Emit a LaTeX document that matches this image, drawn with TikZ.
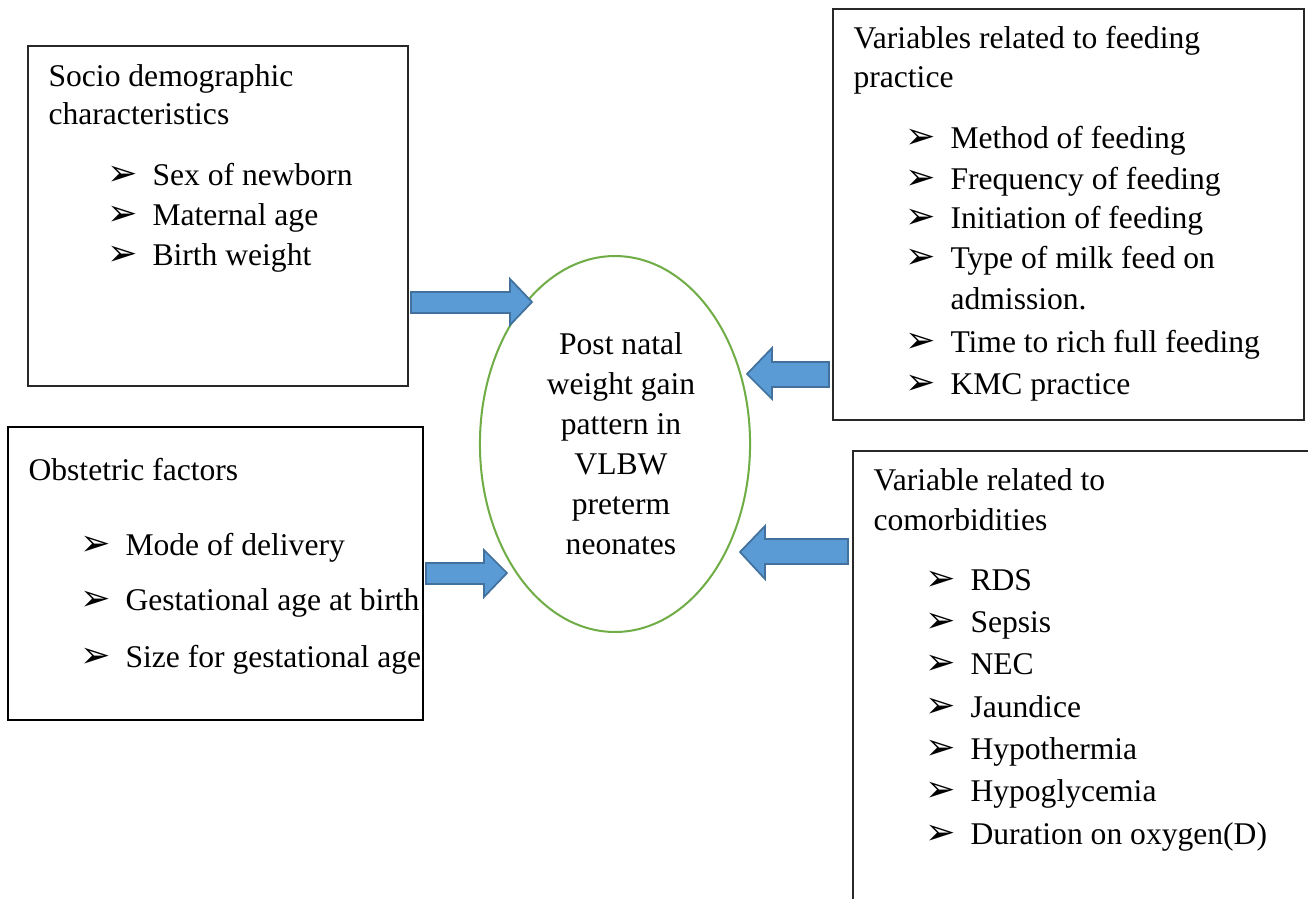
\documentclass[tikz,border=0pt]{standalone}
\usepackage{fontspec}
\setmainfont{Liberation Serif}
\newfontfamily\dingfont{DejaVu Sans}
\usetikzlibrary{shapes.geometric}
\definecolor{boxline}{RGB}{40,40,40}
\definecolor{ringgreen}{RGB}{112,173,71}
\definecolor{arrowfill}{RGB}{91,155,213}
\definecolor{arrowline}{RGB}{65,113,156}
\newcommand{\bull}{\makebox[15.5pt][l]{\dingfont\scalebox{1.15}{\char"27A2}}}

\tikzset{
  txt/.style={anchor=base west, inner sep=0pt, font=\fontsize{10.9}{13.8}\selectfont},
  frame/.style={draw=boxline, line width=0.5pt},
  barrow/.style={fill=arrowfill, draw=arrowline, line width=0.6pt, line join=miter}
}

\begin{document}
\begin{tikzpicture}[x=0.345pt, y=-0.345pt]
  \useasboundingbox (0,0) rectangle (1308,899);
  \clip (0,0) rectangle (1308,899);

  % boxes
  \draw[frame] (28,46) rectangle (408,386);
  \draw[frame] (833,9) rectangle (1304,420);
  \draw[draw=black, line width=0.8pt] (8,427) rectangle (423,720);
  \draw[frame] (853,451) rectangle (1330,930);

  % centre
  \node[ellipse, draw=ringgreen, line width=0.7pt, minimum width=93.2pt,
    minimum height=129.7pt, inner sep=0pt] (post) at (615,444) {};
  \node[align=center, inner sep=0pt, font=\fontsize{10.9}{13.8}\selectfont]
    (postlbl) at (621,444)
    {Post natal\\weight gain\\pattern in\\VLBW\\preterm\\neonates};

  % socio demographic
  \node[txt] (soc) at (48,86) {Socio demographic};
  \node[txt] (soc2) at (48,124) {characteristics};
  \foreach \t [count=\i] in {Sex of newborn, Maternal age, Birth weight}
    \node[txt] (soc-\i) at (107,145+40*\i) {\bull\t};

  % feeding
  \node[txt] (feed) at (853,48) {Variables related to feeding};
  \node[txt] (feed2) at (853,87) {practice};
  \node[txt] (feed-1) at (905,148) {\bull Method of feeding};
  \node[txt] (feed-2) at (905,189) {\bull Frequency of feeding};
  \node[txt] (feed-3) at (905,228) {\bull Initiation of feeding};
  \node[txt] (feed-4) at (905,268) {\bull Type of milk feed on};
  \node[txt] (feed-4b) at (950,309) {admission.};
  \node[txt] (feed-5) at (905,352) {\bull Time to rich full feeding};
  \node[txt] (feed-6) at (905,394) {\bull KMC practice};

  % obstetric
  \node[txt] (obs) at (28,480) {Obstetric factors};
  \node[txt] (obs-1) at (80,555) {\bull Mode of delivery};
  \node[txt] (obs-2) at (80,610) {\bull Gestational age at birth};
  \node[txt] (obs-3) at (80,667) {\bull Size for gestational age};

  % comorbidities
  \node[txt] (com) at (873,490) {Variable related to};
  \node[txt] (com2) at (873,530) {comorbidities};
  \foreach \t [count=\i] in {RDS, Sepsis, NEC, Jaundice, Hypothermia,
      Hypoglycemia, Duration on oxygen(D)}
    \node[txt] (com-\i) at (925,548+42.3*\i) {\bull\t};

  % arrows
  \draw[barrow] (411,292) -- (510,292) -- (510,279) -- (532,302)
    -- (510,325) -- (510,313) -- (411,313) -- cycle;
  \draw[barrow] (829,362) -- (772,362) -- (772,348) -- (747,374)
    -- (772,399) -- (772,387) -- (829,387) -- cycle;
  \draw[barrow] (426,563) -- (484,563) -- (484,550) -- (507,573)
    -- (484,597) -- (484,584) -- (426,584) -- cycle;
  \draw[barrow] (848,539) -- (765,539) -- (765,526) -- (740,552)
    -- (765,579) -- (765,564) -- (848,564) -- cycle;
\end{tikzpicture}
\end{document}
